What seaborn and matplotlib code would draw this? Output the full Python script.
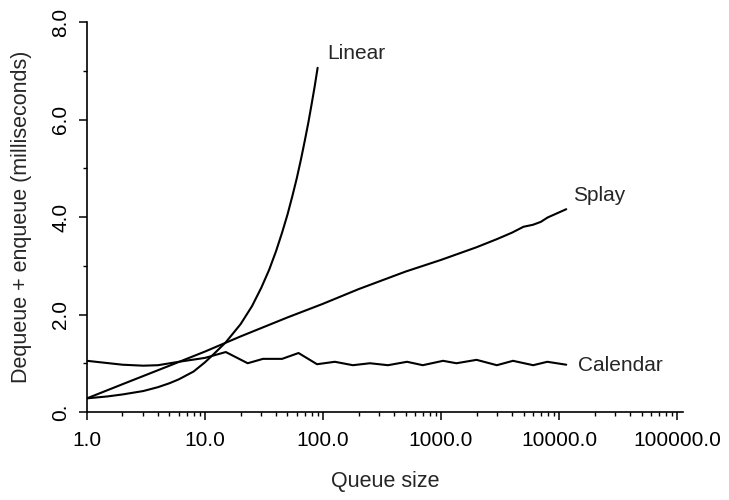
import numpy as np
import pandas as pd
import matplotlib
matplotlib.use('Agg')
import matplotlib.pyplot as plt
import seaborn as sns
from matplotlib.ticker import LogLocator, FixedLocator, NullFormatter

# queue size vs. dequeue + enqueue time (ms)
linear_x = [1, 1.5, 2, 3, 4, 5, 6, 8, 10, 12, 15, 20, 25, 30, 35, 40, 45,
            50, 55, 60, 65, 70, 75, 80, 85, 90]
linear_y = [0.28, 0.32, 0.36, 0.43, 0.51, 0.59, 0.67, 0.83, 1.02, 1.20, 1.43,
            1.80, 2.17, 2.55, 2.92, 3.30, 3.68, 4.05, 4.43, 4.80, 5.18, 5.56,
            5.93, 6.31, 6.68, 7.06]

splay_x = [1, 2, 5, 10, 20, 50, 100, 200, 500, 1000, 2000, 3000, 4000,
           5000, 6000, 7000, 8000, 11500]
splay_y = [0.28, 0.57, 0.95, 1.24, 1.55, 1.94, 2.22, 2.52, 2.88, 3.12, 3.38,
           3.55, 3.68, 3.80, 3.84, 3.90, 3.99, 4.16]

calendar_x = [1, 2, 3, 4, 6, 10, 15, 23, 31, 45, 62, 89, 126, 179, 250, 355,
              515, 700, 1040, 1350, 2000, 2970, 4070, 6030, 7950, 11500]
calendar_y = [1.05, 0.97, 0.95, 0.96, 1.03, 1.11, 1.23, 1.00, 1.09, 1.09,
              1.21, 0.98, 1.03, 0.96, 1.00, 0.96, 1.03, 0.96, 1.05, 1.00,
              1.07, 0.96, 1.05, 0.96, 1.03, 0.97]

y_ticks = [0, 2, 4, 6, 8]
y_tick_labels = ['0.', '2.0', '4.0', '6.0', '8.0']
x_ticks = [1, 10, 100, 1000, 10000, 100000]
x_tick_labels = ['1.0', '10.0', '100.0', '1000.0', '10000.0', '100000.0']

sns.set_style('ticks')
plt.rcParams['font.family'] = ['Liberation Sans', 'DejaVu Sans']

fig = plt.figure(figsize=(7.29, 5.0), dpi=100)
ax = fig.add_axes([0.1193, 0.176, 0.8176, 0.78])

series = [('Linear', linear_x, linear_y),
          ('Splay', splay_x, splay_y),
          ('Calendar', calendar_x, calendar_y)]
for name, xs, ys in series:
    sns.lineplot(x=xs, y=ys, ax=ax, color='black', lw=1.5)

ax.set_xscale('log')
ax.set_xlim(1, 10 ** 5.05)
ax.set_ylim(0, 8)

ax.set_xticks(x_ticks)
ax.set_xticklabels(x_tick_labels)
ax.xaxis.set_minor_locator(LogLocator(base=10, subs=np.arange(2, 10)))
ax.xaxis.set_minor_formatter(NullFormatter())
ax.set_yticks(y_ticks)
ax.set_yticklabels(y_tick_labels, rotation=90, va='center')
ax.yaxis.set_minor_locator(FixedLocator([1, 3, 5, 7]))

ax.tick_params(axis='both', which='major', length=6, width=1.1,
               labelsize=15, color='black', labelcolor='black')
ax.tick_params(axis='both', which='minor', length=3, width=1.0, color='black')
ax.tick_params(axis='x', which='major', pad=8)
ax.tick_params(axis='y', which='major', pad=6)

for side in ['top', 'right']:
    ax.spines[side].set_visible(False)
for side in ['left', 'bottom']:
    ax.spines[side].set_linewidth(1.2)
    ax.spines[side].set_color('black')

ax.set_xlabel('Queue size', fontsize=15.5, labelpad=15)
ax.set_ylabel('Dequeue + enqueue (milliseconds)', fontsize=15.5, labelpad=14)

# curve labels
ax.text(108, 7.36, 'Linear', fontsize=15, va='center', ha='left')
ax.text(13200, 4.45, 'Splay', fontsize=15, va='center', ha='left')
ax.text(14500, 0.96, 'Calendar', fontsize=15, va='center', ha='left')

fig.savefig('out.png', dpi=100)
